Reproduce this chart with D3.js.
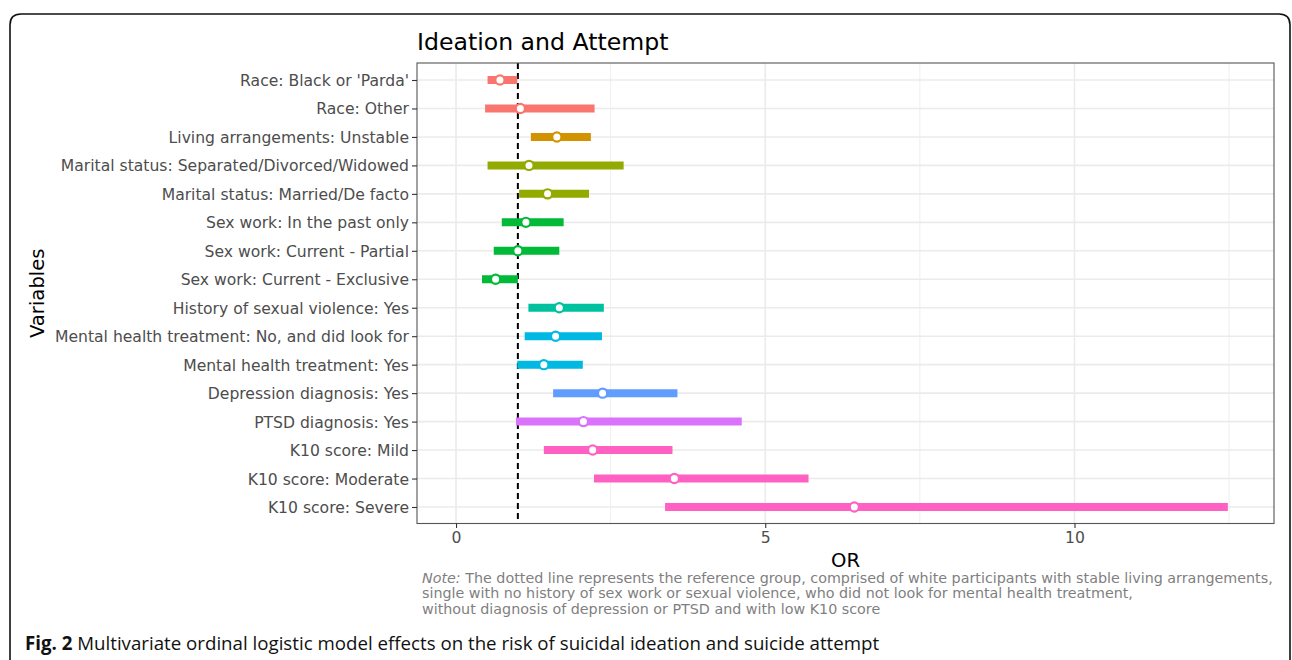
<!DOCTYPE html>
<html>
<head>
<meta charset="utf-8">
<script src="https://cdn.jsdelivr.net/npm/d3@7"></script>
<style>
  html, body { margin: 0; padding: 0; background: #fff; }
  svg { display: block; }
</style>
</head>
<body>
<svg id="chart" width="1292" height="660"></svg>
<script>
const variables = [
  "Race: Black or 'Parda'",
  "Race: Other",
  "Living arrangements: Unstable",
  "Marital status: Separated/Divorced/Widowed",
  "Marital status: Married/De facto",
  "Sex work: In the past only",
  "Sex work: Current - Partial",
  "Sex work: Current - Exclusive",
  "History of sexual violence: Yes",
  "Mental health treatment: No, and did look for",
  "Mental health treatment: Yes",
  "Depression diagnosis: Yes",
  "PTSD diagnosis: Yes",
  "K10 score: Mild",
  "K10 score: Moderate",
  "K10 score: Severe"
];
const groups = ["Race","Race","Living","Marital","Marital","Sex work","Sex work","Sex work",
  "Sexual violence","MH treatment","MH treatment","Depression","PTSD","K10","K10","K10"];
const orEstimate = [0.71, 1.04, 1.63, 1.18, 1.48, 1.13, 1.00, 0.64, 1.67, 1.61, 1.42, 2.37, 2.06, 2.21, 3.53, 6.44];
const orLower    = [0.51, 0.47, 1.21, 0.51, 1.02, 0.74, 0.61, 0.42, 1.17, 1.11, 0.99, 1.57, 0.97, 1.42, 2.23, 3.38];
const orUpper    = [0.99, 2.24, 2.18, 2.71, 2.15, 1.74, 1.67, 1.00, 2.39, 2.36, 2.05, 3.58, 4.62, 3.50, 5.70, 12.48];
const groupOrder = ["Race","Living","Marital","Sex work","Sexual violence","MH treatment","Depression","PTSD","K10"];
const groupColors = ["#F8766D","#D39200","#93AA00","#00BA38","#00C19F","#00B9E3","#619CFF","#DB72FB","#FF61C3"];
const xTicks = [0, 5, 10];
const xMinor = [2.5, 7.5, 12.5];
const refOR = 1;

const title = "Ideation and Attempt";
const xTitle = "OR";
const yTitle = "Variables";
const noteLines = [
  "The dotted line represents the reference group, comprised of white participants with stable living arrangements,",
  "single with no history of sex work or sexual violence, who did not look for mental health treatment,",
  "without diagnosis of depression or PTSD and with low K10 score"
];
const captionBold = "Fig. 2";
const captionText = " Multivariate ordinal logistic model effects on the risk of suicidal ideation and suicide attempt";

const svg = d3.select("#chart");
const P = { left: 417, right: 1274, top: 63, bottom: 523.5 };

// outer frame
svg.append("path")
  .attr("d", "M10,672 L10,25 Q10,14 21,14 L1279,14 Q1290,14 1290,25 L1290,672")
  .attr("fill", "none").attr("stroke", "#111").attr("stroke-width", 1.6);

const x = d3.scaleLinear().domain([-0.631, 13.226]).range([P.left, P.right]);
const y = d3.scalePoint().domain(variables).range([80, 507]);
const color = d3.scaleOrdinal().domain(groupOrder).range(groupColors);

const font = "'DejaVu Sans', sans-serif";

// grid
const g = svg.append("g");
g.selectAll("line.minor").data(xMinor).join("line")
  .attr("x1", d => x(d)).attr("x2", d => x(d)).attr("y1", P.top).attr("y2", P.bottom)
  .attr("stroke", "#EBEBEB").attr("stroke-width", 0.8);
g.selectAll("line.majx").data(xTicks).join("line")
  .attr("x1", d => x(d)).attr("x2", d => x(d)).attr("y1", P.top).attr("y2", P.bottom)
  .attr("stroke", "#EBEBEB").attr("stroke-width", 1.6);
g.selectAll("line.majy").data(variables).join("line")
  .attr("x1", P.left).attr("x2", P.right).attr("y1", d => y(d)).attr("y2", d => y(d))
  .attr("stroke", "#EBEBEB").attr("stroke-width", 1.6);

// reference line
svg.append("line")
  .attr("x1", x(refOR)).attr("x2", x(refOR)).attr("y1", P.top).attr("y2", P.bottom)
  .attr("stroke", "#000").attr("stroke-width", 2).attr("stroke-dasharray", "6,4");

// CI bars
const rows = variables.map((v, i) => ({ v, g: groups[i], est: orEstimate[i], lo: orLower[i], hi: orUpper[i] }));
svg.append("g").selectAll("line").data(rows).join("line")
  .attr("x1", d => x(d.lo)).attr("x2", d => x(d.hi))
  .attr("y1", d => y(d.v)).attr("y2", d => y(d.v))
  .attr("stroke", d => color(d.g)).attr("stroke-width", 8);
svg.append("g").selectAll("circle").data(rows).join("circle")
  .attr("cx", d => x(d.est)).attr("cy", d => y(d.v)).attr("r", 4.6)
  .attr("fill", "#fff").attr("stroke", d => color(d.g)).attr("stroke-width", 2.2);

// panel border
svg.append("rect")
  .attr("x", P.left).attr("y", P.top).attr("width", P.right - P.left).attr("height", P.bottom - P.top)
  .attr("fill", "none").attr("stroke", "#555").attr("stroke-width", 1.1);

// axes
const xAxis = svg.append("g").attr("transform", `translate(0,${P.bottom})`)
  .call(d3.axisBottom(x).tickValues(xTicks).tickFormat(d3.format("d")).tickSize(4.5).tickPadding(4));
const yAxis = svg.append("g").attr("transform", `translate(${P.left},0)`)
  .call(d3.axisLeft(y).tickSize(5).tickPadding(3));
[xAxis, yAxis].forEach(a => {
  a.select(".domain").remove();
  a.selectAll(".tick line").attr("stroke", "#333").attr("stroke-width", 1.1);
  a.selectAll(".tick text").attr("fill", "#4D4D4D").style("font-family", font).style("font-size", "15.6px");
});
yAxis.selectAll(".tick text").attr("dy", "0.35em");

// titles
svg.append("text").attr("x", P.left).attr("y", 50).text(title)
  .style("font-family", font).style("font-size", "23.6px").attr("fill", "#000");
svg.append("text").attr("x", (P.left + P.right) / 2).attr("y", 567).attr("text-anchor", "middle")
  .text(xTitle).style("font-family", font).style("font-size", "19.6px").attr("fill", "#000");
svg.append("text").attr("transform", `translate(44,${(P.top + P.bottom) / 2}) rotate(-90)`)
  .attr("text-anchor", "middle").text(yTitle)
  .style("font-family", font).style("font-size", "19.6px").attr("fill", "#000");

// note
const note = svg.append("g");
noteLines.forEach((line, i) => {
  const t = note.append("text").attr("x", 422).attr("y", 583 + i * 15.3)
    .style("font-family", font).style("font-size", "14.3px").attr("fill", "#7F7F7F");
  if (i === 0) {
    t.append("tspan").style("font-style", "italic").text("Note:");
    t.append("tspan").text(" " + line);
  } else t.text(line);
});

// caption
const cap = svg.append("text").attr("x", 25).attr("y", 650)
  .style("font-family", "'Open Sans', 'Noto Sans', sans-serif").style("font-size", "18.7px").attr("fill", "#111");
cap.append("tspan").style("font-weight", "bold").text(captionBold);
cap.append("tspan").text(captionText);
</script>
</body>
</html>
